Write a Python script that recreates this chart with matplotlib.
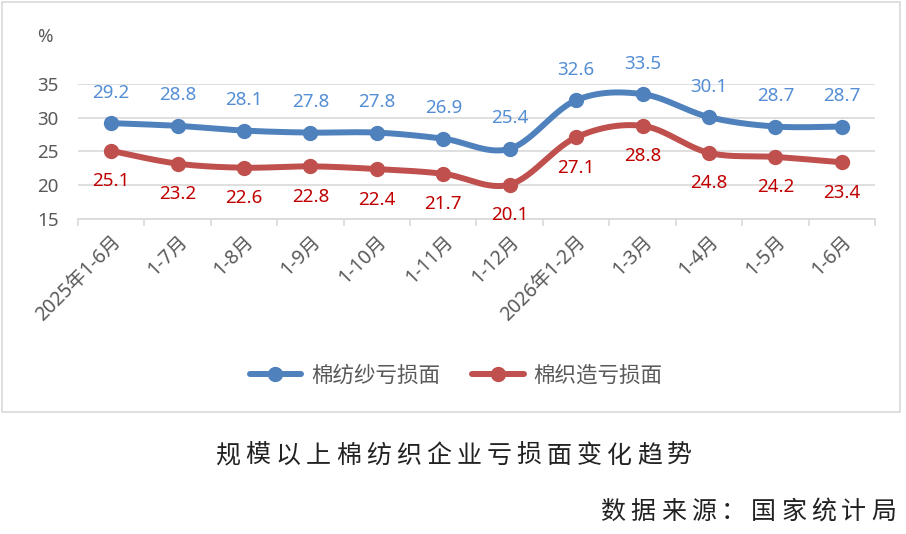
import numpy as np
import matplotlib
matplotlib.use('Agg')
import matplotlib.pyplot as plt
from matplotlib.patches import Rectangle
from matplotlib.lines import Line2D

# data
periods = ['2025年1-6月', '1-7月', '1-8月', '1-9月', '1-10月', '1-11月', '1-12月',
           '2026年1-2月', '1-3月', '1-4月', '1-5月', '1-6月']
yarn_loss = [29.2, 28.8, 28.1, 27.8, 27.8, 26.9, 25.4, 32.6, 33.5, 30.1, 28.7, 28.7]
weave_loss = [25.1, 23.2, 22.6, 22.8, 22.4, 21.7, 20.1, 27.1, 28.8, 24.8, 24.2, 23.4]
series_names = ['棉纺纱亏损面', '棉织造亏损面']
yticks = [15, 20, 25, 30, 35]
title = '规模以上棉纺织企业亏损面变化趋势'
source = '数据来源：国家统计局'

BLUE = '#4F81BD'
RED = '#C0504D'
BLUE_LBL = '#558ED5'
RED_LBL = '#C00000'
GRID = '#D9D9D9'
TXT = '#595959'
FONTS = ['Noto Sans', 'Noto Sans CJK SC']
plt.rcParams['font.family'] = FONTS


def smooth(xs, ys, n=30):
    # excel-like smoothed line: cubic bezier with catmull-rom control points
    p = np.column_stack([xs, ys]).astype(float)
    p = np.vstack([p[0], p, p[-1]])
    out = []
    t = np.linspace(0, 1, n)[:, None]
    for i in range(1, len(p) - 2):
        p0, p3 = p[i], p[i + 1]
        c1 = p0 + (p[i + 1] - p[i - 1]) / 6.0
        c2 = p3 - (p[i + 2] - p[i]) / 6.0
        seg = (1 - t) ** 3 * p0 + 3 * (1 - t) ** 2 * t * c1 + 3 * (1 - t) * t ** 2 * c2 + t ** 3 * p3
        out.append(seg if i == 1 else seg[1:])
    out = np.vstack(out)
    return out[:, 0], out[:, 1]


W, H = 906, 534
fig = plt.figure(figsize=(W / 100, H / 100), dpi=100)

# outer chart frame
fig.patches.append(Rectangle((2 / W, 1 - 412 / H), 898 / W, 410 / H, transform=fig.transFigure,
                             fill=False, edgecolor=GRID, linewidth=1.2))

ax = fig.add_axes([78 / W, 1 - 219 / H, 797 / W, 135 / H])
x = np.arange(len(periods))
ax.set_xlim(-0.5, len(periods) - 0.5)
ax.set_ylim(15, 35)

for vals, col, lcol, above in [(yarn_loss, BLUE, BLUE_LBL, True), (weave_loss, RED, RED_LBL, False)]:
    sx, sy = smooth(x, vals)
    ax.plot(sx, sy, color=col, lw=4.3, solid_capstyle='round', clip_on=False, zorder=3)
    ax.plot(x, vals, 'o', color=col, ms=10, clip_on=False, zorder=4)
    for xi, v in zip(x, vals):
        ax.annotate(f'{v:.1f}', (xi, v), xytext=(0, 22 if above else -22), textcoords='offset points',
                    ha='center', va='center', color=lcol, fontsize=13.5, zorder=5)

ax.set_yticks(yticks)
ax.set_yticklabels([str(t) for t in yticks], color=TXT, fontsize=13.5)
ax.grid(axis='y', color=GRID, lw=1.2)
ax.set_axisbelow(True)
for s in ['top', 'right', 'left']:
    ax.spines[s].set_visible(False)
ax.spines['bottom'].set_color(GRID)
ax.spines['bottom'].set_linewidth(1.2)
ax.tick_params(axis='y', length=0, pad=14)

ax.set_xticks(np.arange(len(periods) + 1) - 0.5, minor=False)
ax.set_xticklabels([])
ax.tick_params(axis='x', which='major', length=5, color=GRID, width=1.2)
ax.set_xticks(x, minor=True)
ax.set_xticklabels(periods, minor=True, rotation=45, ha='right', va='top',
                   rotation_mode='anchor', color=TXT, fontsize=14)
ax.tick_params(axis='x', which='minor', length=0, pad=9)

fig.text(45 / W, 1 - 37 / H, '%', ha='center', va='center', color=TXT, fontsize=13.5)

handles = [Line2D([], [], color=BLUE, lw=4.3, marker='o', ms=10, solid_capstyle='round'),
           Line2D([], [], color=RED, lw=4.3, marker='o', ms=10, solid_capstyle='round')]
fig.legend(handles, series_names, loc='center', bbox_to_anchor=(456 / W, 1 - 376 / H), ncol=2,
           frameon=False, fontsize=15.5, handlelength=2.4, columnspacing=1.5, handletextpad=0.45,
           labelcolor=TXT)

# title and source with wide letter spacing
for i, ch in enumerate(title):
    fig.text((228 + 30.1 * i) / W, 1 - 456 / H, ch, ha='center', va='center', fontsize=18,
             family=['Noto Sans CJK SC'], color='#222222')
for i, ch in enumerate(source):
    fig.text((613 + 30.1 * i) / W, 1 - 512 / H, ch, ha='center', va='center', fontsize=18,
             family=['Noto Sans CJK SC'], color='#222222')

fig.savefig('out.png', dpi=100)
